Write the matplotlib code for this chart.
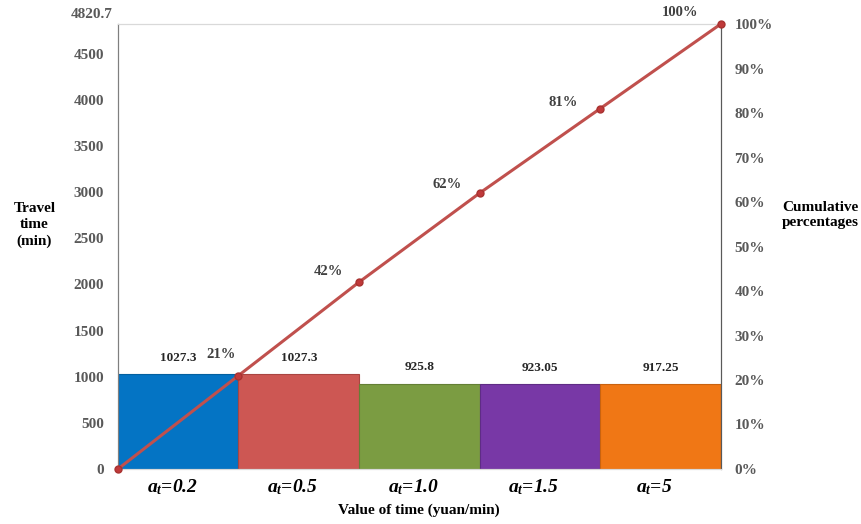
import matplotlib.pyplot as plt
import matplotlib.transforms as mtransforms
import numpy as np

plt.rcParams["font.family"] = ["Liberation Serif", "DejaVu Serif"]
plt.rcParams["mathtext.fontset"] = "custom"
plt.rcParams["mathtext.it"] = "Liberation Serif:italic:bold"
plt.rcParams["mathtext.rm"] = "Liberation Serif:bold"

categories = ["0.2", "0.5", "1.0", "1.5", "5"]
travel_time = [1027.3, 1027.3, 925.8, 923.05, 917.25]
cum_pct = [0, 21, 42, 62, 81, 100]
bar_labels = ["1027.3", "1027.3", "925.8", "923.05", "917.25"]
colors = ["#0474C4", "#CD5753", "#7B9C42", "#7838A6", "#F07715"]
edges = ["#03609F", "#A94541", "#647F35", "#5F2C85", "#C9620F"]
# pixel offsets of the percentage labels from their points
pct_offsets = [(-17, 21), (-31, 11), (-32, 9), (-37, 6), (-41, 12)]

total = sum(travel_time)
left_ticks = [0, 500, 1000, 1500, 2000, 2500, 3000, 3500, 4000, 4500]
right_ticks = list(range(0, 101, 10))

fig = plt.figure(figsize=(8.61, 5.24), dpi=100)
ax = fig.add_axes([0.137, 0.105, 0.700, 0.849])
ax2 = ax.twinx()

x = np.arange(len(categories))
ax.bar(x + 0.5, travel_time, width=1.0, color=colors, edgecolor=edges,
       linewidth=0.8, zorder=2)
for xi, v, lab in zip(x, travel_time, bar_labels):
    ax.text(xi + 0.5, v + 110, lab, ha="center", va="bottom",
            fontsize=9.5, fontweight="bold", color="#262626")

ax.set_xlim(0, len(categories))
ax.set_ylim(0, total)
ax.set_xticks(x + 0.5)
ax.set_xticklabels([r"$a_t$=" + c for c in categories], fontsize=14,
                   fontweight="bold", fontstyle="italic")
ax.tick_params(axis="x", length=0, pad=6)
shift = mtransforms.ScaledTranslation(-6 / 100, 0, fig.dpi_scale_trans)
for lbl in ax.get_xticklabels():
    lbl.set_transform(lbl.get_transform() + shift)
ax.set_yticks(left_ticks)
ax.set_yticklabels([str(t) for t in left_ticks], fontsize=11,
                   fontweight="bold", color="#595959")
ax.tick_params(axis="y", length=0, pad=10)
ax.annotate("4820.7", xy=(0, total), xycoords=("axes fraction", "data"),
            xytext=(-5, 10), textcoords="offset pixels", ha="right", va="center",
            fontsize=11, fontweight="bold", color="#595959")
ax.set_xlabel("Value of time (yuan/min)", fontsize=11, fontweight="bold", labelpad=5)

fig.text(0.040, 0.571, "Travel\ntime\n(min)", ha="center", va="center",
         fontsize=11, fontweight="bold", linespacing=1.3)
fig.text(0.953, 0.590, "Cumulative\npercentages", ha="center", va="center",
         fontsize=11, fontweight="bold", linespacing=1.2)

ax2.plot(np.arange(len(cum_pct)), cum_pct, color="#C0504D", lw=2.2,
         marker="o", ms=5, mfc="#C0393A", mec="#A83230", zorder=3,
         clip_on=False)
ax2.set_ylim(0, 100)
ax2.set_yticks(right_ticks)
ax2.set_yticklabels([f"{t}%" for t in right_ticks], fontsize=11,
                    fontweight="bold", color="#595959")
ax2.tick_params(axis="y", length=0, pad=10)
for xi, p, off in zip(np.arange(len(cum_pct))[1:], cum_pct[1:], pct_offsets):
    ax2.annotate(f"{p}%", xy=(xi, p), xytext=off, textcoords="offset pixels",
                 ha="center", va="center", fontsize=10.5, fontweight="bold",
                 color="#404040")

for a in (ax, ax2):
    a.spines["top"].set_color("#D9D9D9")
    a.spines["bottom"].set_color("#D9D9D9")
    a.spines["left"].set_color("#7F7F7F")
    a.spines["right"].set_color("#595959")
    a.set_facecolor("none")

fig.savefig("out.png")
